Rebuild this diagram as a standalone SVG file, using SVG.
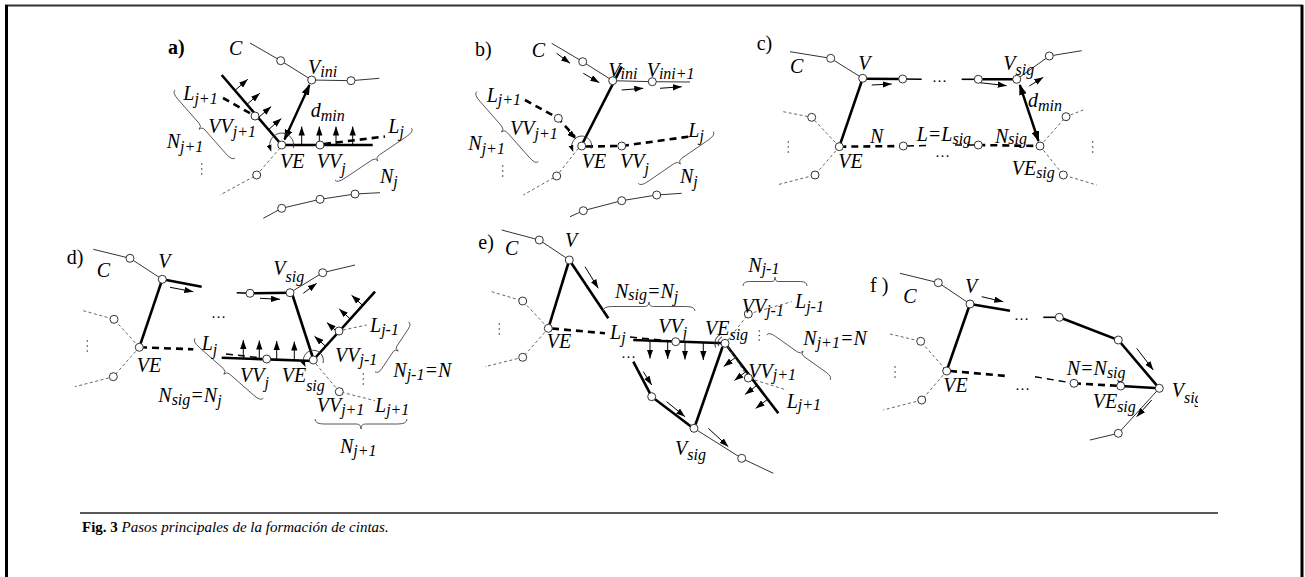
<svg xmlns="http://www.w3.org/2000/svg" width="1305" height="577" viewBox="0 0 1305 577">
<defs>
<marker id="ah" viewBox="0 0 10 7" refX="10" refY="3.5" markerWidth="9" markerHeight="6.5" markerUnits="userSpaceOnUse" orient="auto"><path d="M0,0 L10,3.5 L0,7 z" fill="#000"/></marker>
<marker id="ahb" viewBox="0 0 10 7" refX="9" refY="3.5" markerWidth="11" markerHeight="8" markerUnits="userSpaceOnUse" orient="auto-start-reverse"><path d="M0,0 L10,3.5 L0,7 z" fill="#000"/></marker>
<marker id="ahs" viewBox="0 0 10 7" refX="6" refY="3.5" markerWidth="7" markerHeight="5.5" markerUnits="userSpaceOnUse" orient="auto"><path d="M0,0 L10,3.5 L0,7 z" fill="#000"/></marker>
<clipPath id="clipf"><rect x="840" y="250" width="358" height="220"/></clipPath>
</defs>
<style>
.c{fill:none;stroke:#333;stroke-width:1}
.tk{fill:none;stroke:#000;stroke-width:2.6}
.md{fill:none;stroke:#000;stroke-width:1.6}
.dk{fill:none;stroke:#000;stroke-width:2.6;stroke-dasharray:7 5}
.dm{fill:none;stroke:#000;stroke-width:1.5;stroke-dasharray:7 5}
.dd{fill:none;stroke:#555;stroke-width:0.9;stroke-dasharray:3 2.5}
.ar{fill:none;stroke:#000;stroke-width:1;marker-end:url(#ah)}
.dmin{fill:none;stroke:#000;stroke-width:2.4;marker-start:url(#ahb);marker-end:url(#ahb)}
.rot{fill:none;stroke:#333;stroke-width:0.9;marker-end:url(#ahs)}
.br{fill:none;stroke:#444;stroke-width:0.9}
.nd{fill:#fff;stroke:#333;stroke-width:1}
.dot{fill:#333}
.fr{stroke:#000;fill:none}
text{font-family:"Liberation Serif","Times New Roman",serif;font-size:20px;font-style:italic;fill:#000}
.s{font-size:16px}
.pl{font-style:normal}
.b{font-weight:bold}
.el{font-style:normal;font-size:15px}
.cap{font-size:15px}
</style>
<rect width="1305" height="577" fill="#fff"/>
<g id="frame">
<line class="fr" x1="5" y1="5.5" x2="1303" y2="5.5" stroke-width="2" style="stroke:#333"/>
<line class="fr" x1="6.5" y1="5" x2="6.5" y2="577" stroke-width="3"/>
<line class="fr" x1="1302" y1="5" x2="1302" y2="577" stroke-width="3"/>
<line class="fr" x1="80" y1="513" x2="1218" y2="513" stroke-width="1.6" style="stroke:#222"/>
</g>

<!-- Panel a -->
<g id="panel-a">
<g id="a-connectors">
<polyline class="c" points="250,43 280.7,60.7 311.7,80 351,80.7 379.3,78.3"/>
<polyline class="c" points="263.3,218.3 281.7,208.3 320,199.3 355,194 380,192.7"/>
<polyline class="dd" points="280,148 256.7,175 220,195"/>
<line class="tk" x1="221.7" y1="75" x2="281.7" y2="145"/>
<line class="tk" x1="281.7" y1="145" x2="372.7" y2="145"/>
<line class="dk" x1="324" y1="144" x2="385" y2="136.5"/>
<line class="dk" x1="223" y1="98" x2="255" y2="116"/>
<line class="dmin" x1="284.5" y1="139.5" x2="309.5" y2="85"/>
<line class="ar" x1="234.9" y1="90.4" x2="247.8" y2="79.3"/>
<line class="ar" x1="246.9" y1="104.4" x2="259.8" y2="93.3"/>
<line class="ar" x1="258.3" y1="117.7" x2="271.2" y2="106.6"/>
<line class="ar" x1="268.5" y1="129.6" x2="281.4" y2="118.5"/>
<line class="ar" x1="301.7" y1="145" x2="301.7" y2="126.5"/>
<line class="ar" x1="319.3" y1="145" x2="319.3" y2="126.5"/>
<line class="ar" x1="336" y1="145" x2="336" y2="126.5"/>
<line class="ar" x1="352.7" y1="145" x2="352.7" y2="126.5"/>
<path class="rot" d="M293.3,148.1 A12,12 0 1 0 270.4,149.1"/>
<path class="br" d="M175,90 Q172,92.6 178,99.4 L199,123.2 Q202,126.6 199,129.3 M235,158 Q232,160.6 226,153.8 L205,130 Q202,126.6 199,129.3"/>
<path class="br" d="M411.7,128.3 Q413.9,131.6 406.2,136.8 L379.4,154.9 Q375.6,157.5 377.9,160.8 M335,180 Q337.2,183.3 344.9,178.1 L371.8,160.1 Q375.6,157.5 377.9,160.8"/>
</g>
<g id="a-nodes">
<circle id="a-n1" class="nd" cx="280.7" cy="60.7" r="4"/>
<circle id="a-vini" class="nd" cx="311.7" cy="80" r="4"/>
<circle id="a-n2" class="nd" cx="351" cy="80.7" r="4"/>
<circle id="a-ve" class="nd" cx="281.7" cy="145" r="4"/>
<circle id="a-vvj" class="nd" cx="320" cy="145" r="4"/>
<circle id="a-vvj1" class="nd" cx="255" cy="116" r="4"/>
<circle id="a-n3" class="nd" cx="256.7" cy="175" r="4"/>
<circle id="a-n4" class="nd" cx="281.7" cy="208.3" r="4"/>
<circle id="a-n5" class="nd" cx="320" cy="199.3" r="4"/>
<circle id="a-n6" class="nd" cx="355" cy="194" r="4"/>
<circle class="dot" cx="201.7" cy="164" r="0.8"/><circle class="dot" cx="201.7" cy="169" r="0.8"/><circle class="dot" cx="201.7" cy="174" r="0.8"/>
</g>
<g id="a-labels">
<text class="pl b" x="168" y="54">a)</text>
<text x="229" y="55">C</text>
<text x="308" y="74">V<tspan class="s" dy="3">ini</tspan></text>
<text x="310.7" y="116.7">d<tspan class="s" dy="4">min</tspan></text>
<text x="183.3" y="100">L<tspan class="s" dy="4">j+1</tspan></text>
<text x="166.7" y="148.3">N<tspan class="s" dy="4">j+1</tspan></text>
<text x="208.3" y="133.3">VV<tspan class="s" dy="4">j+1</tspan></text>
<text x="280" y="167.7">VE</text>
<text x="316.7" y="167.7">VV<tspan class="s" dy="6">j</tspan></text>
<text x="388.3" y="133">L<tspan class="s" dy="4">j</tspan></text>
<text x="380" y="183.3">N<tspan class="s" dy="4">j</tspan></text>
</g>
</g>

<!-- Panel b -->
<g id="panel-b">
<g id="b-connectors">
<polyline class="c" points="551.7,43.3 582.7,61.7 612.7,80.7 652.3,81.7 690,82"/>
<polyline class="c" points="570,216.7 583.3,210.7 621.7,200.7 656.7,195 681.7,193.3"/>
<polyline class="dd" points="578.3,148.3 556.7,176 523.3,195"/>
<line class="tk" x1="621.7" y1="66.7" x2="581.7" y2="145"/>
<polyline class="dk" points="586,146.5 621.7,146 688.3,136.7"/>
<polyline class="dk" points="525,100 558.3,118.3 575,137"/>
<line class="ar" x1="568" y1="131" x2="576" y2="139"/>
<line class="ar" x1="556.7" y1="53.3" x2="570" y2="63.3"/>
<line class="ar" x1="583.3" y1="73.3" x2="599.3" y2="82.7"/>
<line class="ar" x1="621.7" y1="90" x2="643.3" y2="88.3"/>
<line class="ar" x1="660" y1="88.3" x2="681.7" y2="86.7"/>
<path class="rot" d="M591.4,148.6 A10,10 0 1 0 572.3,149.4"/>
<path class="br" d="M476.7,91.7 Q473.7,94.3 479.9,101.3 L501.5,125.9 Q504.5,129.3 501.5,132 M538.3,161.7 Q535.3,164.3 529.2,157.3 L507.5,132.8 Q504.5,129.3 501.5,132"/>
<path class="br" d="M713.3,131.7 Q715.6,135 708.1,140.2 L681.8,158.2 Q678.1,160.8 680.3,164.1 M638.3,183.3 Q640.6,186.6 648.1,181.4 L674.3,163.4 Q678.1,160.8 680.3,164.1"/>
</g>
<g id="b-nodes">
<circle id="b-n1" class="nd" cx="582.7" cy="61.7" r="4"/>
<circle id="b-vini" class="nd" cx="612.7" cy="80.7" r="4"/>
<circle id="b-vini1" class="nd" cx="652.3" cy="81.7" r="4"/>
<circle id="b-ve" class="nd" cx="581.7" cy="146" r="4"/>
<circle id="b-vvj" class="nd" cx="621.7" cy="146" r="4"/>
<circle id="b-vvj1" class="nd" cx="558.3" cy="118.3" r="4"/>
<circle id="b-n2" class="nd" cx="556.7" cy="176" r="4"/>
<circle id="b-n3" class="nd" cx="583.3" cy="210.7" r="4"/>
<circle id="b-n4" class="nd" cx="621.7" cy="200.7" r="4"/>
<circle id="b-n5" class="nd" cx="656.7" cy="195" r="4"/>
<circle class="dot" cx="502.7" cy="166" r="0.8"/><circle class="dot" cx="502.7" cy="171" r="0.8"/><circle class="dot" cx="502.7" cy="176" r="0.8"/>
</g>
<g id="b-labels">
<text class="pl" x="475" y="56">b)</text>
<text x="531.7" y="56.7">C</text>
<text x="608.3" y="77.3">V<tspan class="s" dy="2">ini</tspan></text>
<text x="646.7" y="77.3">V<tspan class="s" dy="2">ini+1</tspan></text>
<text x="486.7" y="101.7">L<tspan class="s" dy="3">j+1</tspan></text>
<text x="468.3" y="150">N<tspan class="s" dy="4">j+1</tspan></text>
<text x="510" y="135">VV<tspan class="s" dy="4">j+1</tspan></text>
<text x="581.7" y="168">VE</text>
<text x="620" y="168">VV<tspan class="s" dy="6">j</tspan></text>
<text x="688.3" y="136.7">L<tspan class="s" dy="4">j</tspan></text>
<text x="680" y="183.3">N<tspan class="s" dy="4">j</tspan></text>
</g>
</g>

<!-- Panel c -->
<g id="panel-c">
<g id="c-connectors">
<polyline class="c" points="790,51.7 830.7,58.3 862.7,78.3"/>
<polyline class="c" points="1016.7,79.3 1049.3,56 1081.7,50.7"/>
<line class="tk" x1="862.7" y1="78.8" x2="902.7" y2="79"/>
<line class="md" x1="902.7" y1="79" x2="921.7" y2="79.3"/>
<line class="md" x1="961.7" y1="79.3" x2="978.3" y2="79.3"/>
<line class="tk" x1="978.3" y1="79.3" x2="1016.7" y2="79.3"/>
<line class="ar" x1="871.7" y1="85" x2="891.7" y2="84"/>
<line class="ar" x1="980" y1="82.7" x2="1006.7" y2="85.7"/>
<line class="ar" x1="1029.3" y1="86" x2="1043.3" y2="77.3"/>
<line class="dmin" x1="1019.8" y1="85" x2="1038.5" y2="141"/>
<line class="tk" x1="862.7" y1="78.3" x2="839.3" y2="146.7"/>
<line class="dk" x1="839.3" y1="146.7" x2="903.3" y2="146"/>
<line class="dm" x1="907" y1="146" x2="927" y2="145.5"/>
<line class="dm" x1="955" y1="145" x2="975" y2="145"/>
<line class="dk" x1="978.3" y1="145" x2="1040" y2="146"/>
<polyline class="dd" points="783.3,111.7 811.7,117.3 839.3,146.7"/>
<polyline class="dd" points="839.3,146.7 815,175 776.7,185"/>
<polyline class="dd" points="1040,146 1066,116.7 1083.3,110"/>
<polyline class="dd" points="1040,146 1063.3,175 1096.7,185"/>
</g>
<g id="c-nodes">
<circle id="c-n1" class="nd" cx="830.7" cy="58.3" r="4"/>
<circle id="c-v" class="nd" cx="862.7" cy="78.3" r="4"/>
<circle id="c-n2" class="nd" cx="902.7" cy="79" r="4"/>
<circle id="c-n3" class="nd" cx="978.3" cy="79.3" r="4"/>
<circle id="c-vsig" class="nd" cx="1016.7" cy="79.3" r="4"/>
<circle id="c-n4" class="nd" cx="1049.3" cy="56" r="4"/>
<circle id="c-ve" class="nd" cx="839.3" cy="146.7" r="4"/>
<circle id="c-n5" class="nd" cx="903.3" cy="146" r="4"/>
<circle id="c-n6" class="nd" cx="978.3" cy="145" r="4"/>
<circle id="c-vesig" class="nd" cx="1040" cy="146" r="4"/>
<circle id="c-n7" class="nd" cx="811.7" cy="117.3" r="4"/>
<circle id="c-n8" class="nd" cx="815" cy="175" r="4"/>
<circle id="c-n9" class="nd" cx="1066" cy="116.7" r="4"/>
<circle id="c-n10" class="nd" cx="1063.3" cy="175" r="4"/>
<circle class="dot" cx="788.3" cy="142" r="0.8"/><circle class="dot" cx="788.3" cy="147" r="0.8"/><circle class="dot" cx="788.3" cy="152" r="0.8"/>
<circle class="dot" cx="1092.7" cy="142" r="0.8"/><circle class="dot" cx="1092.7" cy="147" r="0.8"/><circle class="dot" cx="1092.7" cy="152" r="0.8"/>
</g>
<g id="c-labels">
<text class="pl" x="756.7" y="50">c)</text>
<text x="790" y="73.3">C</text>
<text x="858.3" y="70">V</text>
<text x="1003.3" y="70">V<tspan class="s" dy="5">sig</tspan></text>
<text x="1028" y="106.7">d<tspan class="s" dy="4">min</tspan></text>
<text x="870" y="143.3">N</text>
<text x="916.7" y="141">L=L<tspan class="s" dy="3">sig</tspan></text>
<text x="995" y="143.3">N<tspan class="s" dy="1">sig</tspan></text>
<text x="838.3" y="168.3">VE</text>
<text x="1011.7" y="175">VE<tspan class="s" dy="3">sig</tspan></text>
<text class="el" x="932" y="82">…</text>
<text class="el" x="935" y="157">…</text>
</g>
</g>

<!-- Panel d -->
<g id="panel-d">
<g id="d-connectors">
<polyline class="c" points="93.3,249.3 130,258.3 162.3,279.3"/>
<polyline class="c" points="290,292.7 322.7,272.7 355,265"/>
<line class="tk" x1="162.3" y1="279.3" x2="201.7" y2="286.7"/>
<line class="md" x1="236.7" y1="292.7" x2="250" y2="293.3"/>
<line class="tk" x1="250" y1="293.3" x2="290" y2="292.7"/>
<line class="ar" x1="170" y1="287.3" x2="193.3" y2="291.7"/>
<line class="ar" x1="260" y1="298.3" x2="280" y2="299.3"/>
<line class="ar" x1="303.3" y1="293.3" x2="316.7" y2="283.3"/>
<line class="tk" x1="162.3" y1="279.3" x2="139.3" y2="347.3"/>
<line class="tk" x1="292.5" y1="295" x2="313.3" y2="359"/>
<line class="tk" x1="313.3" y1="360" x2="375" y2="291.7"/>
<line class="tk" x1="221.7" y1="357.7" x2="313.3" y2="361"/>
<line class="dk" x1="140" y1="347.3" x2="193.3" y2="349.3"/>
<line class="dm" x1="226" y1="354" x2="262" y2="358"/>
<line class="dd" x1="343" y1="330" x2="366.7" y2="325"/>
<polyline class="dd" points="316,364 339.3,391.7 375,400.7"/>
<polyline class="dd" points="83.3,310.7 114,319.3 139.3,347.3"/>
<polyline class="dd" points="139.3,347.3 113.3,376.7 75,386.7"/>
<line class="ar" x1="243.3" y1="358.5" x2="243.3" y2="340"/>
<line class="ar" x1="259.3" y1="359" x2="259.3" y2="340.5"/>
<line class="ar" x1="276.7" y1="359.6" x2="276.7" y2="341"/>
<line class="ar" x1="294.3" y1="360.2" x2="294.3" y2="341.5"/>
<line class="ar" x1="325.6" y1="346.3" x2="314.5" y2="336.2"/>
<line class="ar" x1="338" y1="332.7" x2="326.9" y2="322.6"/>
<line class="ar" x1="350.3" y1="319" x2="339.2" y2="308.9"/>
<line class="ar" x1="362.7" y1="305.4" x2="351.6" y2="295.3"/>
<path class="rot" d="M323,363 A10,10 0 1 0 304.3,364.5"/>
<path class="br" d="M195,338.3 Q192.4,341.3 199.2,347.3 L223.1,368.3 Q226.5,371.3 223.9,374.3 M263.3,398.3 Q260.7,401.3 253.8,395.3 L229.9,374.3 Q226.5,371.3 223.9,374.3"/>
<path class="br" d="M408.3,321.7 Q411.6,323.9 408.3,328.9 L396.7,346.4 Q395,348.9 398.3,351.1 M375,371.7 Q378.3,373.9 381.6,368.9 L393.3,351.4 Q395,348.9 398.3,351.1"/>
<path class="br" d="M315,419 Q315,424 324.2,424 L356.4,424 Q361,424 361,429 M407,419 Q407,424 397.8,424 L365.6,424 Q361,424 361,429"/>
</g>
<g id="d-nodes">
<circle id="d-n1" class="nd" cx="130" cy="258.3" r="4"/>
<circle id="d-v" class="nd" cx="162.3" cy="279.3" r="4"/>
<circle id="d-n2" class="nd" cx="250" cy="293.3" r="4"/>
<circle id="d-vsig" class="nd" cx="290" cy="292.7" r="4"/>
<circle id="d-n3" class="nd" cx="322.7" cy="272.7" r="4"/>
<circle id="d-ve" class="nd" cx="139.3" cy="347.3" r="4"/>
<circle id="d-vesig" class="nd" cx="313.3" cy="360" r="4"/>
<circle id="d-vvj" class="nd" cx="266.7" cy="359" r="4"/>
<circle id="d-vvjm1" class="nd" cx="339" cy="331" r="4"/>
<circle id="d-vvjp1" class="nd" cx="339.3" cy="391.7" r="4"/>
<circle id="d-n4" class="nd" cx="114" cy="319.3" r="4"/>
<circle id="d-n5" class="nd" cx="113.3" cy="376.7" r="4"/>
<circle class="dot" cx="87.3" cy="341" r="0.8"/><circle class="dot" cx="87.3" cy="346" r="0.8"/><circle class="dot" cx="87.3" cy="351" r="0.8"/>
<circle class="dot" cx="363.3" cy="374" r="0.8"/><circle class="dot" cx="363.3" cy="379" r="0.8"/><circle class="dot" cx="363.3" cy="384" r="0.8"/>
</g>
<g id="d-labels">
<text class="pl" x="66.7" y="264">d)</text>
<text x="96.7" y="276.7">C</text>
<text x="158.3" y="268">V</text>
<text x="273.3" y="275">V<tspan class="s" dy="7">sig</tspan></text>
<text class="el" x="211" y="318">…</text>
<text x="136.7" y="371.7">VE</text>
<text x="201.7" y="350">L<tspan class="s" dy="5">j</tspan></text>
<text x="158.3" y="401.7">N<tspan class="s" dy="3">sig</tspan><tspan dy="-3">=N</tspan><tspan class="s" dy="4">j</tspan></text>
<text x="240" y="381.7">VV<tspan class="s" dy="6">j</tspan></text>
<text x="281.7" y="381.7">VE<tspan class="s" dy="9">sig</tspan></text>
<text x="370" y="331.7">L<tspan class="s" dy="3">j-1</tspan></text>
<text x="335" y="361.7">VV<tspan class="s" dy="3">j-1</tspan></text>
<text x="393.3" y="376.7">N<tspan class="s" dy="3">j-1</tspan><tspan dy="-3">=N</tspan></text>
<text x="316.7" y="411.7">VV<tspan class="s" dy="3">j+1</tspan></text>
<text x="375" y="411.7">L<tspan class="s" dy="3">j+1</tspan></text>
<text x="340" y="453">N<tspan class="s" dy="3">j+1</tspan></text>
</g>
</g>

<!-- Panel e -->
<g id="panel-e">
<g id="e-connectors">
<polyline class="c" points="501.7,230 539.3,240 569.3,260"/>
<line class="tk" x1="569.3" y1="260" x2="608.3" y2="318.3"/>
<line class="ar" x1="585" y1="266.7" x2="598.3" y2="288.3"/>
<line class="tk" x1="569.3" y1="260" x2="548.3" y2="328.3"/>
<line class="dk" x1="552" y1="328.5" x2="605" y2="333.3"/>
<polyline class="dd" points="491.7,291.7 522.7,301 548.3,328.3"/>
<polyline class="dd" points="548.3,328.3 522.7,357.3 485,366.7"/>
<line class="dm" x1="630" y1="337" x2="672" y2="341"/>
<line class="tk" x1="633.3" y1="340" x2="725" y2="343.3"/>
<line class="ar" x1="650" y1="340.6" x2="650" y2="358.5"/>
<line class="ar" x1="667.7" y1="341.2" x2="667.7" y2="359"/>
<line class="ar" x1="685" y1="341.9" x2="685" y2="359.5"/>
<line class="ar" x1="703.3" y1="342.5" x2="703.3" y2="360"/>
<line class="tk" x1="725" y1="343.3" x2="778.3" y2="413.3"/>
<line class="ar" x1="735.7" y1="357.3" x2="723.7" y2="366.4"/>
<line class="ar" x1="746.3" y1="371.3" x2="734.4" y2="380.4"/>
<line class="ar" x1="757" y1="385.3" x2="745.1" y2="394.4"/>
<line class="ar" x1="767.6" y1="399.3" x2="755.7" y2="408.4"/>
<line class="tk" x1="722.5" y1="347" x2="695.5" y2="424.5"/>
<polyline class="dd" points="728,347 748.3,378 786.7,390"/>
<polyline class="dd" points="728,340 748.3,314 791.7,301.7"/>
<path class="c" d="M718.5,346 A7,7 0 0 1 722,336.9 M715.6,347.5 A10,10 0 0 1 721,334.2"/>
<polyline class="tk" points="633.3,361.7 651.7,396.7 693.3,428.3"/>
<line class="ar" x1="643.3" y1="371.7" x2="651.7" y2="385"/>
<line class="ar" x1="666.7" y1="401.7" x2="685" y2="416.7"/>
<polyline class="c" points="694,428.3 741.7,458.3 773.3,473.3"/>
<line class="ar" x1="708.3" y1="428.3" x2="728.3" y2="446.7"/>
<path class="br" d="M603,311 Q603,306.5 612.2,306.5 L644.4,306.5 Q649,306.5 649,302 M695,311 Q695,306.5 685.8,306.5 L653.6,306.5 Q649,306.5 649,302"/>
<path class="br" d="M743,286 Q743,281.5 749.4,281.5 L771.8,281.5 Q775,281.5 775,277 M807,286 Q807,281.5 800.6,281.5 L778.2,281.5 Q775,281.5 775,277"/>
<path class="br" d="M766.7,335 Q769,331.7 775.4,336.3 L797.5,352 Q800.7,354.2 803,351 M830,380 Q832.3,376.7 826,372.2 L803.9,356.5 Q800.7,354.2 803,351"/>
</g>
<g id="e-nodes">
<circle id="e-n1" class="nd" cx="539.3" cy="240" r="4"/>
<circle id="e-v" class="nd" cx="569.3" cy="260" r="4"/>
<circle id="e-ve" class="nd" cx="548.3" cy="328.3" r="4"/>
<circle id="e-n2" class="nd" cx="522.7" cy="301" r="4"/>
<circle id="e-n3" class="nd" cx="522.7" cy="357.3" r="4"/>
<circle id="e-vvj" class="nd" cx="675.7" cy="341.7" r="4"/>
<circle id="e-vesig" class="nd" cx="725" cy="343.3" r="4"/>
<circle id="e-vvjp1" class="nd" cx="748.3" cy="378" r="4"/>
<circle id="e-vvjm1" class="nd" cx="748.3" cy="314" r="4"/>
<circle id="e-n4" class="nd" cx="651.7" cy="396.7" r="4"/>
<circle id="e-vsig" class="nd" cx="694" cy="428.3" r="4"/>
<circle id="e-n5" class="nd" cx="741.7" cy="458.3" r="4"/>
<circle class="dot" cx="499.3" cy="324" r="0.8"/><circle class="dot" cx="499.3" cy="329" r="0.8"/><circle class="dot" cx="499.3" cy="334" r="0.8"/>
<circle class="dot" cx="759.3" cy="331" r="0.8"/><circle class="dot" cx="759.3" cy="335.5" r="0.8"/><circle class="dot" cx="759.3" cy="340" r="0.8"/>
</g>
<g id="e-labels">
<text class="pl" x="478.3" y="249">e)</text>
<text x="505" y="255">C</text>
<text x="565" y="246.7">V</text>
<text x="546.7" y="348.3">VE</text>
<text x="610" y="339">L<tspan class="s" dy="4">j</tspan></text>
<text class="el" x="621" y="358">…</text>
<text x="615" y="298.3">N<tspan class="s" dy="2">sig</tspan><tspan dy="-2">=N</tspan><tspan class="s" dy="4">j</tspan></text>
<text x="658.3" y="333.3">VV<tspan class="s" dy="5">j</tspan></text>
<text x="705" y="335">VE<tspan class="s" dy="5">sig</tspan></text>
<text x="748.3" y="271.7">N<tspan class="s" dy="2">j-1</tspan></text>
<text x="741.7" y="313.3">VV<tspan class="s" dy="3">j-1</tspan></text>
<text x="795" y="308.3">L<tspan class="s" dy="4">j-1</tspan></text>
<text x="803.3" y="345">N<tspan class="s" dy="3">j+1</tspan><tspan dy="-3">=N</tspan></text>
<text x="748.3" y="378.3">VV<tspan class="s" dy="2">j+1</tspan></text>
<text x="786.7" y="408.3">L<tspan class="s" dy="2">j+1</tspan></text>
<text x="675" y="455">V<tspan class="s" dy="5">sig</tspan></text>
</g>
</g>

<!-- Panel f -->
<g id="panel-f">
<g id="f-connectors">
<polyline class="c" points="900,273.3 938.3,282.7 970,304"/>
<line class="tk" x1="970" y1="304" x2="1010" y2="310.7"/>
<line class="ar" x1="981.7" y1="296.7" x2="1003.3" y2="301.7"/>
<line class="md" x1="1043.3" y1="317.3" x2="1059.3" y2="317.3"/>
<polyline class="tk" points="1059.3,317.3 1118.3,340 1159.3,388.3"/>
<line class="ar" x1="1136.7" y1="348.3" x2="1153.3" y2="370"/>
<polyline class="c" points="1159.3,388.3 1118.3,433.3 1090,440"/>
<line class="ar" x1="1151.7" y1="400" x2="1136.7" y2="416.7"/>
<line class="tk" x1="970" y1="304" x2="946.7" y2="370.7"/>
<line class="dk" x1="950" y1="371" x2="1006.7" y2="376"/>
<line class="dm" x1="1035" y1="376.7" x2="1074" y2="383.3"/>
<line class="dk" x1="1074" y1="383.3" x2="1120.7" y2="386"/>
<line class="tk" x1="1120.7" y1="386" x2="1159.3" y2="388.3"/>
<polyline class="dd" points="890,334 920.7,341.3 946.7,371"/>
<polyline class="dd" points="946.7,371 921.7,400 883.3,410"/>
</g>
<g id="f-nodes">
<circle id="f-n1" class="nd" cx="938.3" cy="282.7" r="4"/>
<circle id="f-v" class="nd" cx="970" cy="304" r="4"/>
<circle id="f-n2" class="nd" cx="1059.3" cy="317.3" r="4"/>
<circle id="f-n3" class="nd" cx="1118.3" cy="340" r="4"/>
<circle id="f-vsig" class="nd" cx="1159.3" cy="388.3" r="4"/>
<circle id="f-n4" class="nd" cx="1118.3" cy="433.3" r="4"/>
<circle id="f-ve" class="nd" cx="946.7" cy="371" r="4"/>
<circle id="f-n5" class="nd" cx="1074" cy="383.3" r="4"/>
<circle id="f-vesig" class="nd" cx="1120.7" cy="386" r="4"/>
<circle id="f-n6" class="nd" cx="920.7" cy="341.3" r="4"/>
<circle id="f-n7" class="nd" cx="921.7" cy="400" r="4"/>
<circle class="dot" cx="895" cy="367" r="0.8"/><circle class="dot" cx="895" cy="372" r="0.8"/><circle class="dot" cx="895" cy="377" r="0.8"/>
</g>
<g id="f-labels">
<text class="pl" x="870" y="291.7">f )</text>
<text x="903.3" y="303.3">C</text>
<text x="965" y="293.3">V</text>
<text class="el" x="1014" y="320">…</text>
<text class="el" x="1015" y="390">…</text>
<text x="1066.7" y="375">N=N<tspan class="s" dy="3">sig</tspan></text>
<text x="943.3" y="391.7">VE</text>
<text x="1092.7" y="408.3">VE<tspan class="s" dy="4">sig</tspan></text>
<text clip-path="url(#clipf)" x="1171.7" y="397">V<tspan class="s" dy="6">sig</tspan></text>
</g>
</g>

<g id="caption">
<text class="cap" x="82" y="532"><tspan class="pl b">Fig. 3</tspan> Pasos principales de la formación de cintas.</text>
</g>
</svg>
